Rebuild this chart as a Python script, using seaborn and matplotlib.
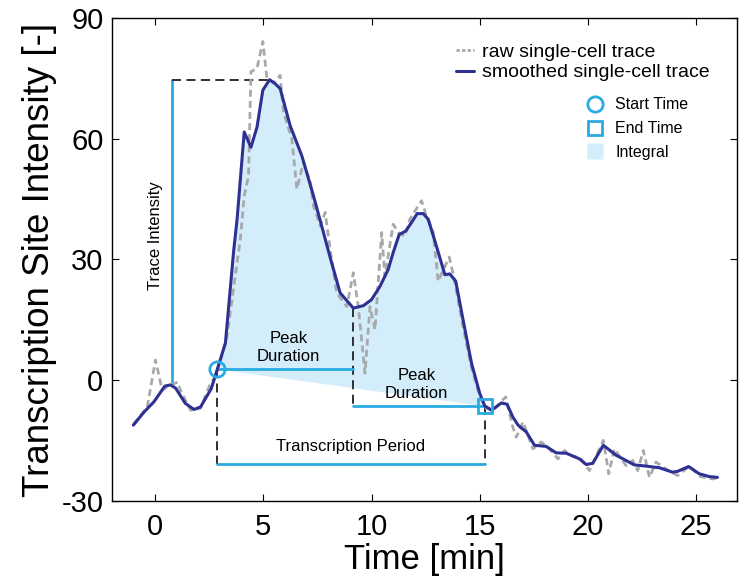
# Import libraries
import numpy as np
import pandas as pd
import matplotlib
matplotlib.use("Agg")
import matplotlib.pyplot as plt
from matplotlib.lines import Line2D
import seaborn as sns

# Raw single-cell trace
t_raw = [-1.0, -0.36, 0.02, 0.33, 0.56, 1.04, 1.17, 1.64, 2.1, 2.56, 2.79, 3.3,
         3.94, 4.12, 4.32, 4.43, 4.71, 4.98, 5.17, 5.5, 5.78, 5.93, 6.32, 6.55,
         6.86, 7.17, 7.32, 7.63, 7.86, 8.09, 8.39, 8.86, 9.16, 9.39, 9.7, 9.93,
         10.16, 10.47, 10.62, 11.0, 11.24, 11.54, 11.77, 12.31, 12.54, 12.85,
         13.08, 13.59, 13.8, 14.2, 14.6, 15.0, 15.3, 15.61, 16.2, 16.53, 16.69,
         17.0, 17.46, 17.84, 18.2, 18.61, 18.92, 19.3, 19.61, 20.07, 20.71,
         20.96, 21.22, 21.76, 22.07, 22.3, 22.56, 22.84, 23.14, 23.6, 24.14,
         24.68, 25.2, 25.75, 25.98]
y_raw = [-11, -6.7, 5, -2.5, -1.7, -0.5, -2.5, -7.5, -7, -0.8, 0.75, 10,
         35, 45.8, 50.8, 76.7, 77.5, 84.2, 75, 74, 75.8, 66.7, 60, 47.5,
         54.2, 49.2, 43.3, 38.3, 41.7, 32.5, 21.7, 18.3, 26.7, 18.3, 1.7, 18.3,
         12.5, 36.7, 25.8, 38.75, 36.7, 35.8, 40, 44.6, 40.8, 36.7,
         24.6, 30.6, 25.8, 14, 3.5, -4, -7, -7.5, -4.2, -11.7, -14.2,
         -10.4, -17.1, -15.4, -17, -19.6, -17.5, -19, -19.2, -22.5, -15,
         -23.3, -17.1, -21.25, -20, -22.5, -17.5, -24.2, -20.4, -22.1, -23.75,
         -21.5, -24, -24.6, -24.3]

# Smoothed single-cell trace
t_smooth = [-1.0, -0.5, -0.05, 0.45, 0.71, 0.95, 1.4, 1.8, 2.1, 2.6, 2.88, 3.25,
            3.63, 3.79, 4.12, 4.43, 4.71, 4.98, 5.29, 5.55, 5.78, 6.24, 6.78, 7.32,
            7.78, 8.09, 8.55, 9.16, 9.62, 10.0, 10.39, 10.77, 11.0, 11.28, 11.59,
            11.85, 12.11, 12.39, 12.62, 13.0, 13.39, 13.62, 13.89, 14.23, 14.62,
            15.0, 15.23, 15.55, 16.0, 16.26, 16.53, 16.77, 17.15, 17.53, 18.07,
            18.53, 19.0, 19.61, 19.92, 20.22, 20.71, 21.3, 21.76, 22.14, 22.53,
            22.84, 23.3, 23.9, 24.14, 24.65, 25.14, 25.6, 25.98]
y_smooth = [-11.2, -7.9, -5.4, -1.5, -1.2, -2.0, -5.8, -7.3, -6.7, -2.1, 2.75, 9.2,
            32, 40, 61.7, 57.9, 62.9, 72.1, 74.7, 73.7, 72.5, 63.3, 55.8, 45.8,
            36.7, 30.5, 21.7, 17.9, 18.5, 20, 23.3, 27.5, 31.7, 36.2, 37.1,
            39.2, 41.4, 41.4, 40, 33.3, 26.2, 26.4, 24.6, 15, 4.2,
            -3.3, -6.4, -7.5, -5.7, -6.0, -9.2, -11.2, -12.9, -16.2, -16.5,
            -18.1, -18.2, -19.6, -21.0, -20.7, -16.2, -18.7, -20.0, -21.1, -21.3,
            -21.5, -21.8, -22.9, -22.7, -21.5, -23.3, -24.0, -24.2]

# Annotation values
t_start, y_start = 2.88, 2.75
t_end, y_end = 15.23, -6.4
t_mid, y_mid = 9.16, 17.9
t_intensity = 0.77
y_peak, t_peak = 74.7, 5.29
y_period = -20.75

x_ticks = [0, 5, 10, 15, 20, 25]
y_ticks = [-30, 0, 30, 60, 90]

navy = "#2E3192"
cyan = "#29ABE2"
grey = "#A7A9AC"
fill_c = "#D4EDFA"

sns.set_style("ticks")
plt.rcParams['font.family'] = ['Liberation Sans', 'DejaVu Sans']
plt.rcParams['axes.unicode_minus'] = False
plt.rcParams['text.color'] = 'black'
plt.rcParams['axes.labelcolor'] = 'black'
plt.rcParams['xtick.color'] = 'black'
plt.rcParams['ytick.color'] = 'black'

fig = plt.figure(figsize=(7.45, 5.87), dpi=100)
ax = fig.add_axes([0.150, 0.147, 0.8397, 0.822])

raw = pd.DataFrame({"t": t_raw, "y": y_raw})
smooth = pd.DataFrame({"t": t_smooth, "y": y_smooth})

# integral area between smoothed trace and the start-end baseline
inside = smooth[(smooth.t >= t_start) & (smooth.t <= t_end)]
base = np.interp(inside.t, [t_start, t_end], [y_start, y_end])
ax.fill_between(inside.t, inside.y, base, color=fill_c, lw=0, zorder=1)

sns.lineplot(data=raw, x="t", y="y", ax=ax, color=grey, lw=2.0,
             dashes=False, zorder=3, sort=False)
ax.lines[-1].set_dashes([2.5, 1.5])
sns.lineplot(data=smooth, x="t", y="y", ax=ax, color=navy, lw=2.2,
             zorder=4, sort=False)

# annotations
dash_kw = dict(color="#231F20", lw=1.3, ls=(0, (5, 3)), zorder=2)
ax.plot([t_intensity, t_intensity], [-1.3, y_peak], color=cyan, lw=2, zorder=2)
ax.plot([t_intensity, t_peak], [y_peak, y_peak], **dash_kw)
ax.plot([t_start, t_start], [y_start, y_period], **dash_kw)
ax.plot([t_mid, t_mid], [y_mid, y_end], **dash_kw)
ax.plot([t_end, t_end], [y_end, y_period], **dash_kw)
ax.plot([t_start, t_mid], [y_start, y_start], color=cyan, lw=2, zorder=2)
ax.plot([t_mid, t_end], [y_end, y_end], color=cyan, lw=2, zorder=2)
ax.plot([t_start, t_end], [y_period, y_period], color=cyan, lw=2, zorder=2)
ax.plot([t_start], [y_start], marker="o", ms=11, mfc="none", mec=cyan, mew=2, zorder=5)
ax.plot([t_end], [y_end], marker="s", ms=9.5, mfc="none", mec=cyan, mew=2, zorder=5)

ax.text(0.03, 36, "Trace Intensity", rotation=90, ha="center", va="center", fontsize=12)
ax.text(6.17, 8.2, "Peak\nDuration", ha="center", va="center", fontsize=12, linespacing=1.25)
ax.text(12.08, -1.0, "Peak\nDuration", ha="center", va="center", fontsize=12, linespacing=1.25)
ax.text(9.05, -16.6, "Transcription Period", ha="center", va="center", fontsize=12)

ax.set_xlim(-2, 26.9)
ax.set_ylim(-30, 90)
ax.set_xticks(x_ticks)
ax.set_yticks(y_ticks)
ax.tick_params(direction="in", length=5, width=0.8, labelsize=21, top=True, right=True)
ax.tick_params(axis="x", pad=9)
ax.tick_params(axis="y", pad=6)
for s in ax.spines.values():
    s.set_linewidth(1.0)
    s.set_color("black")
ax.set_xlabel("Time [min]", fontsize=25, labelpad=1)
ax.set_ylabel("Transcription Site Intensity [-]", fontsize=26.5, labelpad=3)

# legends
h1 = [Line2D([], [], color=grey, lw=2, ls=(0, (1.2, 0.8))),
      Line2D([], [], color=navy, lw=2.2)]
leg1 = ax.legend(h1, ["raw single-cell trace", "smoothed single-cell trace"],
                 loc="upper left", bbox_to_anchor=(0.550, 0.948), frameon=False,
                 fontsize=14, handlelength=0.95, handletextpad=0.4,
                 borderpad=0, borderaxespad=0, labelspacing=0.15)
ax.add_artist(leg1)
h2 = [Line2D([], [], ls="none", marker="o", ms=11, mfc="none", mec=cyan, mew=2),
      Line2D([], [], ls="none", marker="s", ms=9.5, mfc="none", mec=cyan, mew=2),
      Line2D([], [], ls="none", marker="s", ms=11, mfc=fill_c, mec="none")]
ax.legend(h2, ["Start Time", "End Time", "Integral"], loc="upper left",
          bbox_to_anchor=(0.760, 0.836), frameon=False, fontsize=11.5,
          handlelength=1.0, handletextpad=0.75, borderpad=0, borderaxespad=0,
          labelspacing=0.55)

plt.savefig("out.png", dpi=100)
plt.close()
